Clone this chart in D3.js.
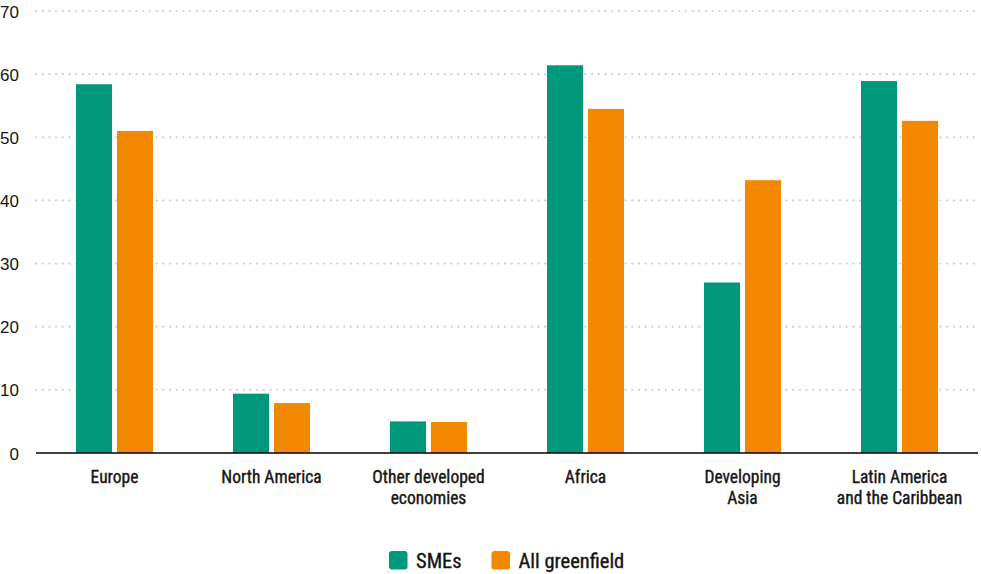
<!DOCTYPE html>
<html><head><meta charset="utf-8">
<script src="https://cdn.jsdelivr.net/npm/d3@7"></script>
<style>
body{margin:0;background:#fff;}
text{font-family:"Liberation Sans Narrow","Arial Narrow","Roboto Condensed",Arial,sans-serif;fill:#141414;}
.ylab text{font-family:"Liberation Sans",Arial,sans-serif;}
.bold{stroke:#141414;stroke-width:0.35px;}
</style></head>
<body>
<svg id="chart" width="981" height="574"></svg>
<script>
const categories = [["Europe"],["North America"],["Other developed","economies"],["Africa"],["Developing","Asia"],["Latin America","and the Caribbean"]];
const seriesNames = ["SMEs","All greenfield"];
const smes = [58.4, 9.4, 5.0, 61.4, 27.0, 58.9];
const allGreenfield = [51.0, 7.9, 4.9, 54.5, 43.2, 52.6];
const yTicks = [0,10,20,30,40,50,60,70];
const colors = ["#00987a","#f18800"];

(function(){
const svg = d3.select("#chart");
const mLeft = 36, mRight = 978, mTop = 11, mBottom = 453;
const catIdx = d3.range(categories.length);
const x0 = d3.scaleBand().domain(catIdx).range([mLeft, mRight]);
const x1 = d3.scaleBand().domain([0,1]).range([0, 77]).paddingInner(0.12);
const y = d3.scaleLinear().domain([0,70]).range([mBottom, mTop]);

// gridlines
svg.append("g").selectAll("line").data(yTicks.filter(t=>t>0)).join("line")
  .attr("x1", mLeft).attr("x2", mRight)
  .attr("y1", d=>y(d)).attr("y2", d=>y(d))
  .attr("stroke","#cfcfcf").attr("stroke-width",2.2)
  .attr("stroke-linecap","round").attr("stroke-dasharray","0,6.7");

// y labels
const yAxis = d3.axisLeft(y).tickValues(yTicks).tickSize(0).tickPadding(0);
const ya = svg.append("g").attr("class","ylab").attr("transform",`translate(19,0)`).call(yAxis);
ya.attr("font-family",null).attr("font-size",null);
ya.select(".domain").remove();
ya.selectAll("text").style("font-size","17px").attr("dy","0.36em").style("fill","#141414");

// bars
const series = [smes, allGreenfield];
const groups = svg.append("g").selectAll("g").data(catIdx).join("g")
  .attr("transform", i => `translate(${x0(i) + (x0.bandwidth()-77)/2},0)`);
groups.selectAll("rect").data(i => [0,1].map(s => ({s, v: series[s][i]}))).join("rect")
  .attr("x", d => x1(d.s)).attr("width", x1.bandwidth())
  .attr("y", d => y(d.v)).attr("height", d => y(0) - y(d.v))
  .attr("fill", d => colors[d.s]);

// x axis line
svg.append("line").attr("x1",mLeft).attr("x2",mRight).attr("y1",y(0)).attr("y2",y(0))
  .attr("stroke","#000").attr("stroke-width",1.5);

// x labels
const xl = svg.append("g").selectAll("text").data(catIdx).join("text")
  .attr("class","bold")
  .attr("x", i => x0(i) + x0.bandwidth()/2).attr("y", 483)
  .attr("text-anchor","middle").style("font-size","17.5px");
xl.selectAll("tspan").data(i => categories[i]).join("tspan")
  .attr("x", function(){ return this.parentNode.getAttribute("x"); })
  .attr("dy", (d,k) => k===0 ? 0 : 20.5).text(d=>d);

// legend
const legX = [389, 491.5];
const lg = svg.append("g").selectAll("g").data(seriesNames).join("g")
  .attr("transform",(d,i)=>`translate(${legX[i]},551)`);
lg.append("rect").attr("width",18.5).attr("height",18.5).attr("rx",3).attr("fill",(d,i)=>colors[i]);
lg.append("text").attr("class","bold").attr("x",27).attr("y",17).style("font-size","20.5px").text(d=>d);
})();
</script>
</body></html>
